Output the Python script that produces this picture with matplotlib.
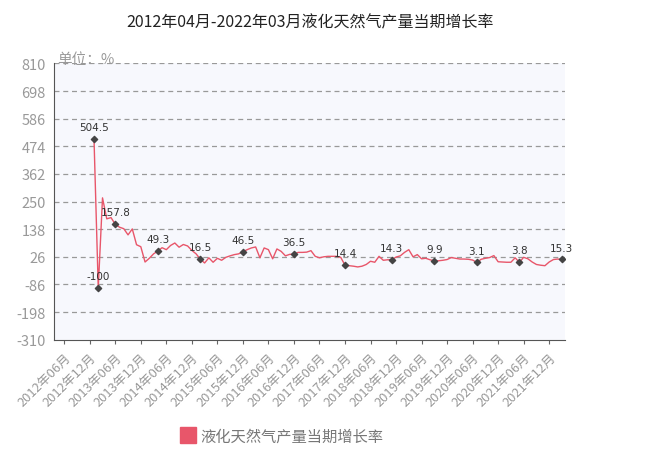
import matplotlib
matplotlib.use("Agg")
import matplotlib.pyplot as plt
import numpy as np

plt.rcParams['font.family'] = ['Noto Sans CJK SC', 'DejaVu Sans']

title = "2012年04月-2022年03月液化天然气产量当期增长率"
series_name = "液化天然气产量当期增长率"
unit_text = "单位：%"

# monthly values, first point is 2013-01
start_year, start_month = 2013, 1
values = [504.5, -100, 265, 180, 185, 157.8, 146, 140, 115, 139,
          75, 67, 5, 20, 38, 49.3, 63, 55, 72, 82,
          65, 76, 70, 52, 38, 16.5, 1, 22, 4, 20,
          12, 24, 30, 35, 38, 46.5, 55, 62, 66, 22,
          62, 55, 18, 58, 48, 30, 36, 36.5, 44, 44,
          45, 51, 28, 22, 26, 28, 28, 28, 24, -8,
          -10, -12, -15, -12, -5, 8, 4, 28, 12, 14,
          14.3, 25, 30, 44, 55, 26, 35, 18, 20, 14,
          9.9, 10, 12, 15, 23, 20, 17, 17, 16, 13,
          3.1, 16, 20, 23, 31, 6, 5, 4, 4, 22,
          3.8, 24, 18, 5, -5, -8, -10, 5, 15, 17,
          15.3]

# labelled points: index into values, label text
mark_idx = [0, 1, 5, 15, 25, 35, 47, 59, 70, 80, 90, 100, 110]
mark_text = ["504.5", "-100", "157.8", "49.3", "16.5", "46.5", "36.5",
             "14.4", "14.3", "9.9", "3.1", "3.8", "15.3"]

tick_labels = ["2012年06月", "2012年12月", "2013年06月", "2013年12月",
               "2014年06月", "2014年12月", "2015年06月", "2015年12月",
               "2016年06月", "2016年12月", "2017年06月", "2017年12月",
               "2018年06月", "2018年12月", "2019年06月", "2019年12月",
               "2020年06月", "2020年12月", "2021年06月", "2021年12月"]

yticks = [-310, -198, -86, 26, 138, 250, 362, 474, 586, 698, 810]

line_color = '#e8566a'

def month_pos(lbl):
    y = int(lbl[:4])
    m = int(lbl[5:7])
    return (y - start_year) * 12 + (m - start_month)

x = np.arange(len(values))
tick_pos = [month_pos(t) for t in tick_labels]

fig = plt.figure(figsize=(6.5, 4.64), dpi=100)
ax = fig.add_axes([0.0831, 0.2657, 0.786, 0.5955])
ax.set_facecolor('#f7f8fd')

ax.plot(x, values, color=line_color, lw=1.0, zorder=3)
mx = [x[i] for i in mark_idx]
my = [values[i] for i in mark_idx]
ax.scatter(mx, my, s=10, color='#444444', zorder=4, marker='D')
for i, t in zip(mark_idx, mark_text):
    ax.annotate(t, (x[i], values[i]), xytext=(0, 5), textcoords='offset points',
                ha='center', va='bottom', fontsize=7.5, color='#333333',
                family=['DejaVu Sans'], zorder=5)

ax.set_ylim(-310, 810)
ax.set_yticks(yticks)
ax.set_yticklabels([str(v) for v in yticks], fontsize=10.5, color='#999999')
ax.tick_params(axis='y', length=0, pad=6)
for v in yticks[1:]:
    ax.axhline(v, color='#999999', lw=0.9, ls=(0, (4, 3)), zorder=1)

ax.set_xlim(-9.4, 110.7)
ax.set_xticks(tick_pos)
ax.set_xticklabels(tick_labels, rotation=45, ha='right', rotation_mode='anchor',
                   fontsize=9.3, color='#999999')
ax.tick_params(axis='x', length=3, color='#666666', pad=5)

for s in ['top', 'right']:
    ax.spines[s].set_visible(False)
ax.spines['left'].set_color('#555555')
ax.spines['bottom'].set_color('#555555')

ax.text(0.006, 1.016, unit_text, transform=ax.transAxes, ha='left', va='center',
        fontsize=10.5, color='#999999', zorder=6)

fig.text(0.477, 0.950, title, ha='center', va='center', fontsize=11.5, color='#222222')

ax.plot([], [], color=line_color, lw=0, marker='s', markersize=11, label=series_name)
fig.legend(loc='center', bbox_to_anchor=(0.435, 0.058), frameon=False,
           fontsize=11, labelcolor='#777777', handlelength=0.8, handletextpad=0.4)

fig.savefig('out.png', dpi=100)
